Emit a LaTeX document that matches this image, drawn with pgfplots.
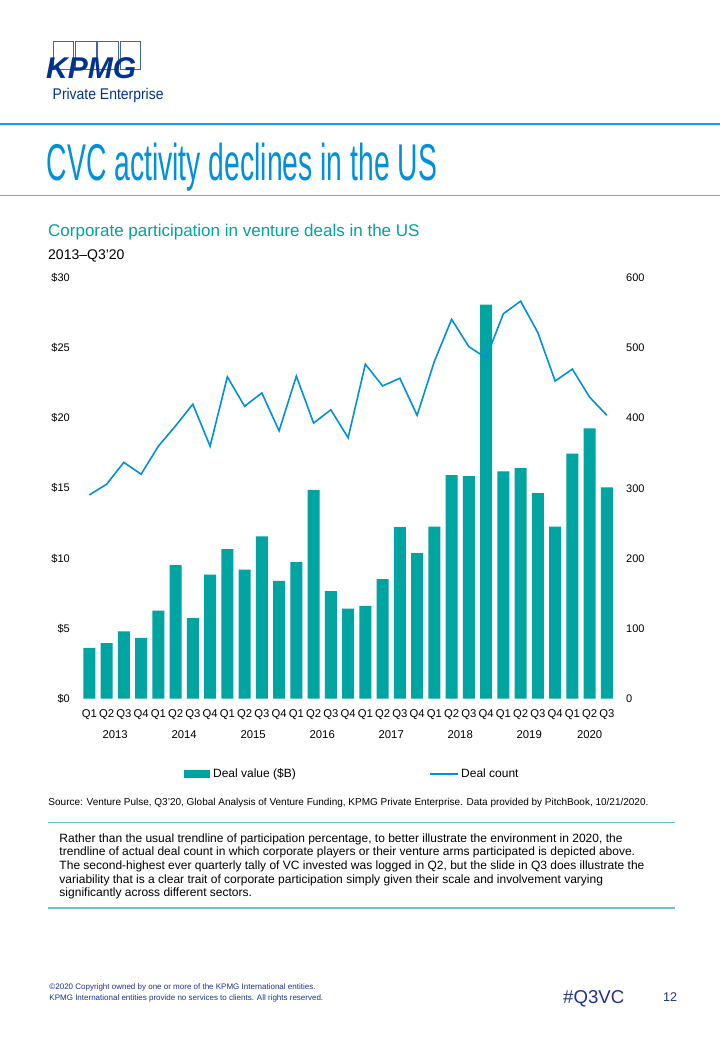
\documentclass[border=0pt]{standalone}
\usepackage{pgfplots}
\pgfplotsset{compat=1.18}
\usepackage{fontspec}
\setmainfont{Liberation Sans}
\newfontfamily\titlefont[FakeStretch=0.548]{Liberation Sans}
\newfontfamily\condfont[FakeStretch=0.9]{Liberation Sans}
\definecolor{barteal}{RGB}{0,164,160}
\definecolor{linecol}{RGB}{0,145,218}
\definecolor{titleblue}{RGB}{0,145,218}
\definecolor{subteal}{RGB}{0,163,161}
\definecolor{kpmgblue}{RGB}{0,51,141}
\definecolor{topline}{RGB}{20,163,226}
\definecolor{titleline}{RGB}{90,178,222}
\definecolor{ruleteal}{RGB}{100,200,200}
\definecolor{footblue}{RGB}{30,50,140}
\begin{document}
\begin{tikzpicture}
\path[use as bounding box, fill=white] (0,0) rectangle (720bp,-1040bp);
\begin{scope}[x=1bp,y=-1bp]
% logo
\foreach \a/\b in {53.3/73.3,75.3/96,97.7/118.3,120.3/140.3}
  \draw[kpmgblue!75, line width=0.8bp] (\a,41.3) rectangle (\b,69.3);
\node[anchor=base west, inner sep=0, text=kpmgblue, font=\fontsize{30bp}{30bp}\selectfont\bfseries\itshape] at (46,78.3) {KPMG};
\node[anchor=base west, inner sep=0, text=kpmgblue, font=\condfont\fontsize{15.5bp}{17bp}\selectfont] at (52.5,99.3) {Private Enterprise};
\draw[topline, line width=1.2bp] (0,124) -- (720,124);
% title
\node[anchor=base west, inner sep=0, text=titleblue, font=\titlefont\fontsize{51.7bp}{55bp}\selectfont] at (46.5,180) {CVC activity declines in the US};
\draw[titleline, line width=1.2bp] (0,195.3) -- (720,195.3);
\node[anchor=base west, inner sep=0, text=subteal, font=\fontsize{17bp}{19bp}\selectfont] at (48,236) {Corporate participation in venture deals in the US};
\node[anchor=base west, inner sep=0, text=black, font=\fontsize{14bp}{16bp}\selectfont] at (48,259) {2013--Q3'20};
% source
\node[anchor=base west, inner sep=0, text=black, font=\fontsize{10bp}{11bp}\selectfont] at (48.3,805) {Source: Venture Pulse, Q3'20, Global Analysis of Venture Funding, KPMG Private Enterprise. Data provided by PitchBook, 10/21/2020.};
\draw[ruleteal, line width=1.4bp] (48,822.7) -- (675,822.7);
\draw[ruleteal, line width=1.4bp] (48,908) -- (675,908);
\foreach \t [count=\i from 0] in {
  {Rather than the usual trendline of participation percentage, to better illustrate the environment in 2020, the},
  {trendline of actual deal count in which corporate players or their venture arms participated is depicted above.},
  {The second-highest ever quarterly tally of VC invested was logged in Q2, but the slide in Q3 does illustrate the},
  {variability that is a clear trait of corporate participation simply given their scale and involvement varying},
  {significantly across different sectors.}}
  \node[anchor=base west, inner sep=0, text=black, font=\fontsize{12bp}{13bp}\selectfont] at (59.3,842.3+13.6*\i) {\t};
% footer
\node[anchor=base west, inner sep=0, text=footblue, font=\fontsize{8bp}{9bp}\selectfont] at (49.3,989.3) {\textcopyright2020 Copyright owned by one or more of the KPMG International entities.};
\node[anchor=base west, inner sep=0, text=footblue, font=\fontsize{8bp}{9bp}\selectfont] at (49.3,1000.7) {KPMG International entities provide no services to clients. All rights reserved.};
\node[anchor=base west, inner sep=0, text=footblue, font=\fontsize{18.6bp}{20bp}\selectfont] at (563,1003) {\#Q3VC};
\node[anchor=base west, inner sep=0, text=footblue, font=\fontsize{12.6bp}{14bp}\selectfont] at (663,1001) {12};
\end{scope}

\begin{axis}[at={(80.7bp,-698.5bp)}, anchor=south west,
  width=534.8bp, height=420.5bp, scale only axis,
  xmin=-0.5, xmax=30.5, ymin=0, ymax=30,
  axis line style={draw=none}, tick style={draw=none}, major tick length=0pt,
  ytick={0,5,...,30}, yticklabels={\$0,\$5,\$10,\$15,\$20,\$25,\$30},
  yticklabel style={anchor=east, inner sep=0pt, xshift=-10.7bp, font=\fontsize{11bp}{13bp}\selectfont},
  xtick={0,...,30},
  xticklabels={Q1,Q2,Q3,Q4,Q1,Q2,Q3,Q4,Q1,Q2,Q3,Q4,Q1,Q2,Q3,Q4,Q1,Q2,Q3,Q4,Q1,Q2,Q3,Q4,Q1,Q2,Q3,Q4,Q1,Q2,Q3},
  xticklabel style={anchor=base, inner sep=0pt, yshift=-18.8bp, font=\fontsize{11.3bp}{13bp}\selectfont},
  extra x ticks={1.5,5.5,9.5,13.5,17.5,21.5,25.5,29},
  extra x tick labels={2013,2014,2015,2016,2017,2018,2019,2020},
  extra x tick style={xticklabel style={yshift=-21bp}},
]
\addplot[ybar, bar width=12bp, bar shift=0pt, fill=barteal, draw=none] coordinates {
(0,3.61) (1,3.96) (2,4.79) (3,4.32) (4,6.27) (5,9.52) (6,5.74) (7,8.83)
(8,10.66) (9,9.19) (10,11.56) (11,8.40) (12,9.73) (13,14.86) (14,7.67) (15,6.41)
(16,6.60) (17,8.52) (18,12.22) (19,10.37) (20,12.27) (21,15.93) (22,15.86) (23,28.10)
(24,16.21) (25,16.43) (26,14.65) (27,12.27) (28,17.47) (29,19.27) (30,15.07)};
\end{axis}

\begin{axis}[at={(80.7bp,-698.5bp)}, anchor=south west,
  width=534.8bp, height=420.5bp, scale only axis,
  xmin=-0.5, xmax=30.5, ymin=0, ymax=600,
  axis line style={draw=none}, tick style={draw=none}, major tick length=0pt,
  xtick=\empty,
  ytick={0,100,...,600}, yticklabels={0,100,200,300,400,500,600},
  yticklabel pos=right,
  yticklabel style={anchor=west, inner sep=0pt, xshift=10.5bp, font=\fontsize{11bp}{13bp}\selectfont},
  legend columns=2,
  legend style={at={(0.19316,-0.17836)}, anchor=west, draw=none,
    inner sep=0pt, outer sep=0pt, font=\fontsize{12bp}{14bp}\selectfont,
    nodes={inner sep=0pt},
    /tikz/every odd column/.append style={column sep=3.7bp},
    /tikz/every even column/.append style={column sep=134.6bp}},
  legend cell align=left,
]
\addlegendimage{legend image code/.code={\fill[barteal] (0bp,-3.5bp) rectangle (25bp,3.5bp);}}
\addlegendentry{Deal value (\$B)}
\addlegendimage{legend image code/.code={\fill[linecol] (0bp,-0.8bp) rectangle (26.7bp,0.8bp);}}
\addlegendentry{Deal count}
\addplot[linecol, line width=1.6bp, forget plot] coordinates {
(0,290.5) (1,305.7) (2,337) (3,320) (4,360) (5,389) (6,420) (7,360)
(8,459) (9,417) (10,436) (11,382) (12,460) (13,393) (14,412) (15,372)
(16,477) (17,446) (18,457) (19,404) (20,481) (21,541) (22,502) (23,486)
(24,549) (25,567) (26,522) (27,453) (28,470) (29,430) (30,404)};
\end{axis}
\end{tikzpicture}
\end{document}
